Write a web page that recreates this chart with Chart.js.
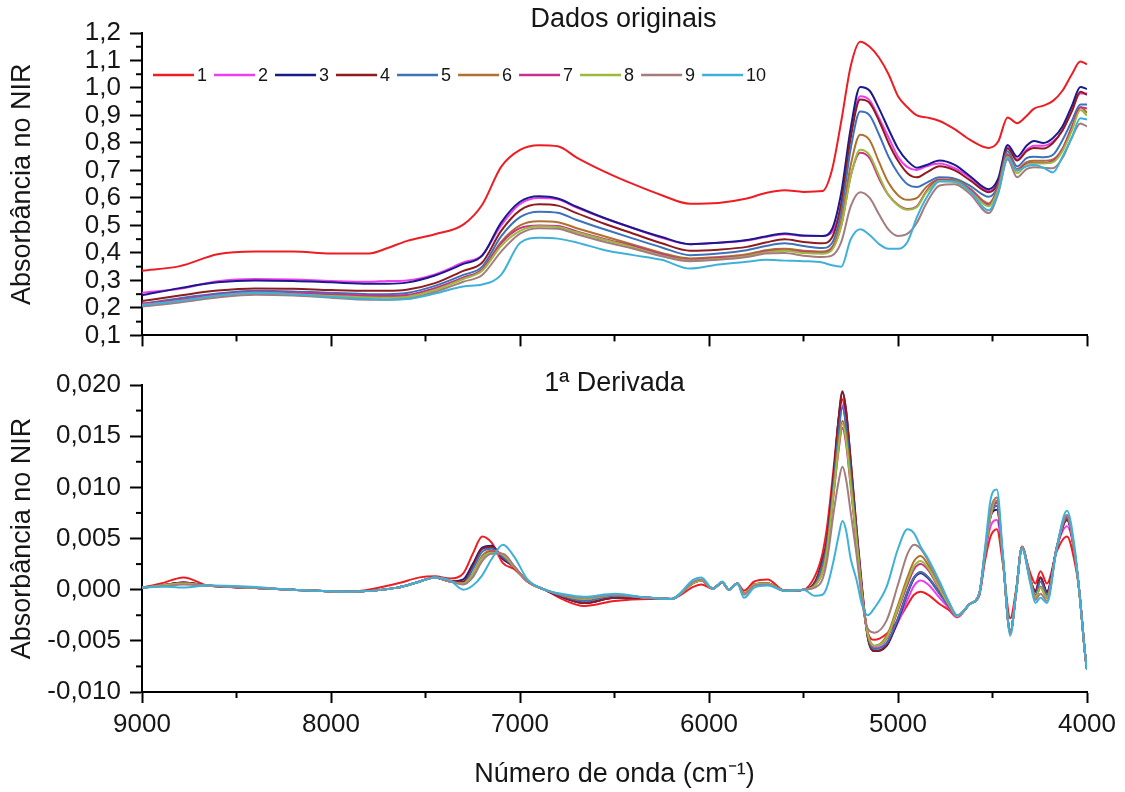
<!DOCTYPE html>
<html lang="pt">
<head>
    <meta charset="UTF-8">
    <title>Dados originais e 1ª Derivada</title>
    <script src="https://cdn.jsdelivr.net/npm/chart.js"></script>
    <style>
        body {
            margin: 0;
            background: #fff;
            width: 1125px;
            height: 792px;
            overflow: hidden;
            position: relative;
        }
        .panel {
            position: absolute;
            left: 0;
            width: 1125px;
        }
        #topPanel { top: 0; height: 360px; }
        #bottomPanel { top: 360px; height: 432px; }
    </style>
</head>
<body>
    <div class="panel" id="topPanel"><canvas id="origChart" width="1125" height="360"></canvas></div>
    <div class="panel" id="bottomPanel"><canvas id="derivChart" width="1125" height="432"></canvas></div>

    <script>
        // amostras
        const sampleLabels = ['1', '2', '3', '4', '5', '6', '7', '8', '9', '10'];
        const lineColors = ['#ee1d23', '#f03cf0', '#1b1a8a', '#8e1b1d', '#3b72b9',
                            '#b0712f', '#c8318e', '#9dbb3a', '#a47c7e', '#3fb1d9'];

        // Dados originais (absorbância)
        const origWavenumbers = [9000, 8800, 8600, 8400, 8200, 8000, 7800, 7700, 7600, 7450,
            7300, 7200, 7100, 7000, 6900, 6800, 6700, 6550, 6400, 6250,
            6100, 5950, 5800, 5700, 5600, 5500, 5400, 5350, 5300, 5250,
            5200, 5150, 5100, 5050, 5000, 4950, 4900, 4850, 4780, 4700,
            4620, 4520, 4470, 4420, 4370, 4320, 4280, 4230, 4180, 4130,
            4080, 4035, 4000];

        const orig1 = [0.335, 0.352, 0.395, 0.405, 0.405, 0.398, 0.398, 0.418, 0.443, 0.468,
            0.503, 0.575, 0.713, 0.775, 0.792, 0.788, 0.747, 0.695, 0.650, 0.610,
            0.579, 0.582, 0.598, 0.618, 0.628, 0.622, 0.625, 0.700, 0.880, 1.080,
            1.168, 1.150, 1.110, 1.050, 0.970, 0.930, 0.900, 0.893, 0.880, 0.850,
            0.812, 0.782, 0.805, 0.893, 0.872, 0.898, 0.925, 0.936, 0.953, 0.990,
            1.050, 1.096, 1.086];
        const orig2 = [0.255, 0.270, 0.297, 0.305, 0.303, 0.298, 0.295, 0.298, 0.300, 0.322,
            0.365, 0.392, 0.500, 0.578, 0.600, 0.595, 0.565, 0.525, 0.490, 0.455,
            0.432, 0.437, 0.445, 0.458, 0.468, 0.462, 0.462, 0.475, 0.580, 0.830,
            0.970, 0.955, 0.890, 0.820, 0.750, 0.712, 0.702, 0.715, 0.725, 0.708,
            0.675, 0.625, 0.660, 0.785, 0.740, 0.775, 0.790, 0.790, 0.805, 0.845,
            0.920, 0.980, 0.980];
        const orig3 = [0.246, 0.272, 0.293, 0.300, 0.298, 0.293, 0.288, 0.288, 0.292, 0.318,
            0.360, 0.390, 0.510, 0.586, 0.606, 0.598, 0.568, 0.526, 0.490, 0.458,
            0.432, 0.437, 0.447, 0.460, 0.471, 0.463, 0.462, 0.485, 0.620, 0.855,
            1.004, 0.990, 0.925, 0.850, 0.780, 0.735, 0.710, 0.720, 0.736, 0.720,
            0.680, 0.632, 0.670, 0.793, 0.750, 0.790, 0.807, 0.800, 0.818, 0.860,
            0.935, 1.004, 0.996];
        const orig4 = [0.225, 0.245, 0.263, 0.271, 0.270, 0.265, 0.262, 0.262, 0.266, 0.290,
            0.335, 0.365, 0.480, 0.555, 0.577, 0.572, 0.545, 0.505, 0.470, 0.435,
            0.408, 0.412, 0.422, 0.438, 0.450, 0.440, 0.435, 0.455, 0.580, 0.820,
            0.958, 0.945, 0.880, 0.800, 0.735, 0.690, 0.675, 0.692, 0.715, 0.700,
            0.665, 0.621, 0.655, 0.780, 0.736, 0.770, 0.782, 0.780, 0.800, 0.845,
            0.915, 0.986, 0.975];
        const orig5 = [0.215, 0.235, 0.252, 0.262, 0.260, 0.255, 0.250, 0.250, 0.254, 0.280,
            0.320, 0.350, 0.460, 0.530, 0.550, 0.546, 0.520, 0.485, 0.452, 0.420,
            0.392, 0.398, 0.410, 0.425, 0.435, 0.425, 0.418, 0.435, 0.550, 0.780,
            0.914, 0.900, 0.830, 0.750, 0.690, 0.650, 0.640, 0.655, 0.675, 0.670,
            0.645, 0.604, 0.645, 0.770, 0.715, 0.745, 0.750, 0.748, 0.757, 0.810,
            0.880, 0.940, 0.940];
        const orig6 = [0.210, 0.228, 0.245, 0.255, 0.252, 0.245, 0.240, 0.240, 0.244, 0.270,
            0.310, 0.340, 0.440, 0.500, 0.515, 0.512, 0.490, 0.460, 0.430, 0.400,
            0.380, 0.385, 0.395, 0.410, 0.415, 0.408, 0.405, 0.420, 0.520, 0.720,
            0.830, 0.810, 0.730, 0.655, 0.610, 0.593, 0.600, 0.640, 0.668, 0.665,
            0.635, 0.580, 0.640, 0.760, 0.705, 0.730, 0.735, 0.735, 0.740, 0.780,
            0.860, 0.930, 0.910];
        const orig7 = [0.215, 0.230, 0.248, 0.258, 0.255, 0.250, 0.245, 0.244, 0.247, 0.272,
            0.310, 0.340, 0.435, 0.490, 0.500, 0.498, 0.478, 0.450, 0.425, 0.395,
            0.375, 0.382, 0.390, 0.405, 0.410, 0.403, 0.400, 0.415, 0.500, 0.680,
            0.764, 0.745, 0.670, 0.610, 0.575, 0.560, 0.570, 0.625, 0.665, 0.660,
            0.630, 0.575, 0.635, 0.755, 0.700, 0.725, 0.728, 0.728, 0.735, 0.775,
            0.855, 0.930, 0.925];
        const orig8 = [0.210, 0.225, 0.243, 0.253, 0.250, 0.243, 0.238, 0.237, 0.240, 0.265,
            0.305, 0.335, 0.425, 0.480, 0.497, 0.494, 0.475, 0.447, 0.420, 0.390,
            0.372, 0.378, 0.388, 0.402, 0.408, 0.400, 0.397, 0.410, 0.500, 0.680,
            0.775, 0.755, 0.680, 0.610, 0.573, 0.557, 0.567, 0.620, 0.662, 0.658,
            0.625, 0.570, 0.630, 0.750, 0.690, 0.720, 0.725, 0.725, 0.730, 0.770,
            0.845, 0.920, 0.900];
        const orig9 = [0.205, 0.220, 0.238, 0.248, 0.245, 0.237, 0.230, 0.230, 0.233, 0.258,
            0.295, 0.320, 0.405, 0.470, 0.490, 0.488, 0.468, 0.440, 0.415, 0.388,
            0.370, 0.375, 0.385, 0.398, 0.400, 0.390, 0.385, 0.390, 0.440, 0.570,
            0.621, 0.600, 0.540, 0.485, 0.462, 0.470, 0.510, 0.580, 0.645, 0.650,
            0.615, 0.545, 0.615, 0.740, 0.675, 0.705, 0.712, 0.710, 0.708, 0.745,
            0.820, 0.871, 0.860];
        const orig10 = [0.210, 0.225, 0.245, 0.255, 0.250, 0.240, 0.232, 0.230, 0.232, 0.252,
            0.278, 0.285, 0.320, 0.436, 0.455, 0.452, 0.438, 0.410, 0.392, 0.375,
            0.343, 0.358, 0.368, 0.375, 0.372, 0.370, 0.365, 0.355, 0.350, 0.450,
            0.486, 0.465, 0.432, 0.415, 0.415, 0.440, 0.530, 0.600, 0.660, 0.660,
            0.625, 0.555, 0.620, 0.745, 0.700, 0.715, 0.720, 0.710, 0.693, 0.750,
            0.820, 0.890, 0.885];

        // 1a derivada
        const derivWavenumbers = [9000, 8900, 8780, 8650, 8450, 8200, 7900, 7650, 7530, 7450,
            7370, 7300, 7250, 7200, 7150, 7090, 7030, 6960, 6870, 6780,
            6660, 6500, 6320, 6200, 6080, 6040, 5980, 5930, 5895, 5850,
            5815, 5760, 5690, 5600, 5500, 5440, 5400, 5375, 5340, 5315,
            5294, 5275, 5250, 5220, 5190, 5160, 5125, 5060, 5000, 4950,
            4915, 4880, 4840, 4780, 4730, 4687, 4620, 4570, 4540, 4510,
            4477, 4445, 4406, 4375, 4344, 4300, 4273, 4246, 4212, 4159,
            4106, 4063, 4040, 4009, 4000];

        const deriv1 = [0.0002, 0.0006, 0.0012, 0.0004, 0.0002, 0.0000, -0.0002, 0.0006, 0.0012, 0.0013,
            0.0011, 0.0016, 0.0035, 0.0052, 0.0046, 0.0026, 0.0020, 0.0008, 0.0000, -0.0009,
            -0.0016, -0.0011, -0.0009, -0.0009, 0.0003, 0.0005, 0.0001, 0.0007, 0.0000, 0.0006,
            -0.0001, 0.0008, 0.0010, -0.0001, 0.0000, 0.0013, 0.0035, 0.0062, 0.0120, 0.0165,
            0.0186, 0.0160, 0.0110, 0.0045, -0.0008, -0.0042, -0.0049, -0.0043, -0.0030, -0.0015,
            -0.0005, -0.0002, -0.0005, -0.0014, -0.0020, -0.0027, -0.0014, -0.0006, 0.0028, 0.0052,
            0.0059, 0.0025, -0.0028, 0.0000, 0.0040, 0.0016, 0.0006, 0.0018, 0.0006, 0.0038,
            0.0052, 0.0025, -0.0003, -0.0065, -0.0078];
        const deriv2 = [0.0002, 0.0004, 0.0007, 0.0004, 0.0002, 0.0000, -0.0002, 0.0002, 0.0008, 0.0012,
            0.0008, 0.0007, 0.0022, 0.0040, 0.0041, 0.0030, 0.0022, 0.0008, 0.0000, -0.0007,
            -0.0013, -0.0008, -0.0008, -0.0009, 0.0007, 0.0009, 0.0001, 0.0007, 0.0000, 0.0006,
            -0.0004, 0.0005, 0.0006, -0.0001, 0.0000, 0.0007, 0.0025, 0.0047, 0.0108, 0.0155,
            0.0180, 0.0162, 0.0115, 0.0055, -0.0003, -0.0045, -0.0057, -0.0052, -0.0032, -0.0010,
            0.0004, 0.0009, 0.0005, -0.0008, -0.0018, -0.0027, -0.0014, -0.0004, 0.0033, 0.0062,
            0.0068, 0.0030, -0.0042, -0.0003, 0.0042, 0.0010, -0.0002, 0.0012, -0.0002, 0.0042,
            0.0062, 0.0033, -0.0003, -0.0065, -0.0078];
        const deriv3 = [0.0002, 0.0004, 0.0007, 0.0004, 0.0002, 0.0000, -0.0002, 0.0002, 0.0008, 0.0012,
            0.0008, 0.0010, 0.0025, 0.0041, 0.0043, 0.0030, 0.0022, 0.0008, 0.0000, -0.0007,
            -0.0013, -0.0008, -0.0008, -0.0009, 0.0007, 0.0009, 0.0001, 0.0007, 0.0000, 0.0006,
            -0.0004, 0.0005, 0.0006, -0.0001, 0.0000, 0.0007, 0.0028, 0.0049, 0.0112, 0.0165,
            0.0193, 0.0175, 0.0125, 0.0060, 0.0000, -0.0046, -0.0060, -0.0055, -0.0030, -0.0004,
            0.0011, 0.0016, 0.0011, -0.0004, -0.0016, -0.0026, -0.0014, -0.0004, 0.0035, 0.0072,
            0.0078, 0.0030, -0.0042, -0.0002, 0.0042, 0.0010, -0.0001, 0.0012, -0.0002, 0.0042,
            0.0068, 0.0033, -0.0003, -0.0065, -0.0078];
        const deriv4 = [0.0002, 0.0004, 0.0007, 0.0004, 0.0002, 0.0000, -0.0002, 0.0002, 0.0008, 0.0012,
            0.0008, 0.0008, 0.0023, 0.0040, 0.0042, 0.0031, 0.0022, 0.0008, 0.0000, -0.0007,
            -0.0013, -0.0008, -0.0008, -0.0009, 0.0007, 0.0009, 0.0001, 0.0007, 0.0000, 0.0006,
            -0.0004, 0.0005, 0.0006, -0.0001, 0.0000, 0.0007, 0.0028, 0.0049, 0.0112, 0.0166,
            0.0194, 0.0176, 0.0126, 0.0062, 0.0002, -0.0047, -0.0060, -0.0054, -0.0028, -0.0002,
            0.0012, 0.0017, 0.0012, -0.0003, -0.0016, -0.0026, -0.0014, -0.0004, 0.0035, 0.0072,
            0.0082, 0.0030, -0.0042, -0.0002, 0.0042, 0.0010, -0.0002, 0.0012, -0.0003, 0.0042,
            0.0068, 0.0033, -0.0003, -0.0065, -0.0078];
        const deriv5 = [0.0002, 0.0004, 0.0006, 0.0004, 0.0002, 0.0000, -0.0002, 0.0002, 0.0008, 0.0012,
            0.0008, 0.0006, 0.0020, 0.0037, 0.0040, 0.0032, 0.0022, 0.0008, 0.0000, -0.0006,
            -0.0011, -0.0006, -0.0008, -0.0009, 0.0007, 0.0009, 0.0001, 0.0007, 0.0000, 0.0006,
            -0.0004, 0.0005, 0.0006, -0.0001, 0.0000, 0.0005, 0.0024, 0.0045, 0.0105, 0.0152,
            0.0178, 0.0160, 0.0113, 0.0055, -0.0003, -0.0045, -0.0058, -0.0052, -0.0028, -0.0003,
            0.0012, 0.0017, 0.0012, -0.0004, -0.0016, -0.0026, -0.0014, -0.0004, 0.0035, 0.0072,
            0.0082, 0.0030, -0.0042, -0.0003, 0.0042, 0.0010, -0.0005, 0.0008, -0.0005, 0.0042,
            0.0070, 0.0033, -0.0003, -0.0065, -0.0078];
        const deriv6 = [0.0002, 0.0004, 0.0006, 0.0004, 0.0002, 0.0000, -0.0002, 0.0002, 0.0008, 0.0012,
            0.0008, 0.0006, 0.0015, 0.0033, 0.0038, 0.0034, 0.0022, 0.0008, 0.0000, -0.0005,
            -0.0009, -0.0005, -0.0008, -0.0009, 0.0007, 0.0009, 0.0001, 0.0007, 0.0000, 0.0006,
            -0.0004, 0.0005, 0.0006, -0.0001, 0.0000, 0.0004, 0.0018, 0.0040, 0.0098, 0.0142,
            0.0165, 0.0150, 0.0105, 0.0050, -0.0005, -0.0044, -0.0055, -0.0045, -0.0015, 0.0012,
            0.0028, 0.0033, 0.0024, 0.0003, -0.0014, -0.0026, -0.0014, -0.0004, 0.0035, 0.0072,
            0.0087, 0.0030, -0.0042, -0.0003, 0.0042, 0.0010, -0.0008, 0.0003, -0.0008, 0.0042,
            0.0072, 0.0033, -0.0003, -0.0065, -0.0078];
        const deriv7 = [0.0002, 0.0004, 0.0006, 0.0004, 0.0002, 0.0000, -0.0002, 0.0002, 0.0008, 0.0012,
            0.0008, 0.0006, 0.0015, 0.0031, 0.0037, 0.0034, 0.0022, 0.0008, 0.0000, -0.0005,
            -0.0009, -0.0005, -0.0008, -0.0009, 0.0007, 0.0009, 0.0001, 0.0007, 0.0000, 0.0006,
            -0.0004, 0.0005, 0.0006, -0.0001, 0.0000, 0.0004, 0.0017, 0.0038, 0.0094, 0.0135,
            0.0158, 0.0143, 0.0100, 0.0048, -0.0006, -0.0043, -0.0055, -0.0048, -0.0020, 0.0005,
            0.0020, 0.0025, 0.0019, 0.0000, -0.0015, -0.0026, -0.0014, -0.0004, 0.0035, 0.0072,
            0.0085, 0.0030, -0.0042, -0.0003, 0.0042, 0.0010, -0.0008, 0.0002, -0.0008, 0.0042,
            0.0071, 0.0033, -0.0003, -0.0065, -0.0078];
        const deriv8 = [0.0002, 0.0004, 0.0006, 0.0004, 0.0002, 0.0000, -0.0002, 0.0002, 0.0008, 0.0012,
            0.0008, 0.0006, 0.0015, 0.0031, 0.0036, 0.0034, 0.0022, 0.0008, 0.0000, -0.0005,
            -0.0009, -0.0005, -0.0008, -0.0009, 0.0007, 0.0009, 0.0001, 0.0007, 0.0000, 0.0006,
            -0.0004, 0.0005, 0.0006, -0.0001, 0.0000, 0.0004, 0.0017, 0.0039, 0.0096, 0.0138,
            0.0162, 0.0147, 0.0102, 0.0049, -0.0005, -0.0043, -0.0055, -0.0047, -0.0018, 0.0008,
            0.0023, 0.0028, 0.0021, 0.0001, -0.0015, -0.0026, -0.0014, -0.0004, 0.0035, 0.0072,
            0.0090, 0.0030, -0.0042, -0.0003, 0.0042, 0.0010, -0.0008, 0.0002, -0.0008, 0.0042,
            0.0073, 0.0033, -0.0003, -0.0065, -0.0078];
        const deriv9 = [0.0002, 0.0003, 0.0005, 0.0004, 0.0002, 0.0000, -0.0002, 0.0002, 0.0008, 0.0012,
            0.0008, 0.0005, 0.0012, 0.0028, 0.0035, 0.0035, 0.0023, 0.0008, 0.0000, -0.0005,
            -0.0008, -0.0005, -0.0008, -0.0009, 0.0008, 0.0010, 0.0001, 0.0007, 0.0000, 0.0006,
            -0.0005, 0.0004, 0.0005, -0.0001, 0.0000, 0.0002, 0.0010, 0.0029, 0.0076, 0.0105,
            0.0120, 0.0108, 0.0075, 0.0035, -0.0010, -0.0038, -0.0042, -0.0030, 0.0005, 0.0035,
            0.0044, 0.0040, 0.0028, 0.0005, -0.0013, -0.0025, -0.0014, -0.0004, 0.0038, 0.0078,
            0.0090, 0.0032, -0.0042, -0.0003, 0.0042, 0.0008, -0.0010, -0.0004, -0.0011, 0.0042,
            0.0073, 0.0033, -0.0003, -0.0065, -0.0078];
        const deriv10 = [0.0002, 0.0003, 0.0002, 0.0004, 0.0003, 0.0000, -0.0002, 0.0002, 0.0008, 0.0012,
            0.0009, 0.0000, 0.0004, 0.0014, 0.0030, 0.0044, 0.0032, 0.0010, 0.0000, -0.0004,
            -0.0007, -0.0004, -0.0008, -0.0009, 0.0010, 0.0012, 0.0001, 0.0008, 0.0000, 0.0006,
            -0.0008, 0.0002, 0.0004, -0.0001, 0.0000, -0.0006, -0.0005, 0.0003, 0.0029, 0.0052,
            0.0067, 0.0058, 0.0030, 0.0010, -0.0015, -0.0025, -0.0018, 0.0003, 0.0040, 0.0059,
            0.0055, 0.0042, 0.0030, 0.0008, -0.0012, -0.0025, -0.0014, -0.0004, 0.0040, 0.0088,
            0.0098, 0.0035, -0.0045, -0.0003, 0.0040, 0.0006, -0.0013, -0.0008, -0.0013, 0.0042,
            0.0077, 0.0038, -0.0003, -0.0065, -0.0078];

        const origSeries = [orig1, orig2, orig3, orig4, orig5, orig6, orig7, orig8, orig9, orig10];
        const derivSeries = [deriv1, deriv2, deriv3, deriv4, deriv5, deriv6, deriv7, deriv8, deriv9, deriv10];

        const fontFamily = "'Liberation Sans', Arial, Helvetica, sans-serif";
        const textColor = '#161616';

        function buildDatasets(xs, series) {
            return series.map((vals, i) => ({
                label: sampleLabels[i],
                data: vals.map((v, k) => ({ x: xs[k], y: v })),
                borderColor: lineColors[i],
                backgroundColor: lineColors[i],
                borderWidth: 2,
                pointRadius: 0,
                fill: false,
                cubicInterpolationMode: 'monotone',
                order: series.length - i   // 10 fica por cima
            }));
        }

        // ticks menores entre os maiores
        const minorTicks = {
            id: 'minorTicks',
            afterDraw(chart) {
                const ctx = chart.ctx, area = chart.chartArea;
                ctx.save();
                ctx.strokeStyle = '#000';
                ctx.lineWidth = 2;
                ['x', 'y'].forEach(id => {
                    const scale = chart.scales[id];
                    const vals = scale.ticks.map(t => t.value);
                    for (let i = 0; i < vals.length - 1; i++) {
                        const p = scale.getPixelForValue((vals[i] + vals[i + 1]) / 2);
                        ctx.beginPath();
                        if (id === 'x') {
                            ctx.moveTo(p, area.bottom);
                            ctx.lineTo(p, area.bottom + 6);
                        } else {
                            ctx.moveTo(area.left, p);
                            ctx.lineTo(area.left - 6, p);
                        }
                        ctx.stroke();
                    }
                });
                ctx.restore();
            }
        };

        // titulo do painel + legenda dentro do grafico
        const panelText = {
            id: 'panelText',
            afterDraw(chart, args, opts) {
                const ctx = chart.ctx, area = chart.chartArea;
                ctx.save();
                ctx.fillStyle = textColor;
                ctx.font = '27px ' + fontFamily;
                ctx.textAlign = 'center';
                ctx.textBaseline = 'middle';
                ctx.fillText(opts.text, (area.left + area.right) / 2 + opts.dx, opts.y);
                if (opts.legend) {
                    ctx.font = '18px ' + fontFamily;
                    ctx.textAlign = 'left';
                    let x = area.left + 11;
                    const y = area.top + 42;
                    chart.data.datasets.forEach(ds => {
                        ctx.strokeStyle = ds.borderColor;
                        ctx.lineWidth = 2.5;
                        ctx.beginPath();
                        ctx.moveTo(x, y);
                        ctx.lineTo(x + 41, y);
                        ctx.stroke();
                        ctx.fillText(ds.label, x + 44, y + 1);
                        x += 44 + ctx.measureText(ds.label).width + 7;
                    });
                }
                ctx.restore();
            }
        };

        function axisX(showLabels, height) {
            return {
                type: 'linear',
                min: 4000,
                max: 9000,
                reverse: true,
                afterFit: s => { s.height = height; },
                border: { display: true, color: '#000', width: 2 },
                grid: { drawOnChartArea: false, drawTicks: true, tickLength: 11, tickColor: '#000', tickWidth: 2 },
                ticks: {
                    display: showLabels,
                    autoSkip: false,
                    stepSize: 1000,
                    padding: 6,
                    color: textColor,
                    font: { family: fontFamily, size: 26 },
                    maxRotation: 0,
                    callback: v => String(v)
                },
                title: {
                    display: showLabels,
                    text: 'Número de onda (cm⁻¹)',
                    color: textColor,
                    font: { family: fontFamily, size: 27 },
                    padding: { top: 0, bottom: 1 }
                }
            };
        }

        function axisY(min, max, step, decimals) {
            return {
                min: min,
                max: max,
                afterFit: s => { s.width = 142; },
                border: { display: true, color: '#000', width: 2 },
                grid: { drawOnChartArea: false, drawTicks: true, tickLength: 12, tickColor: '#000', tickWidth: 2 },
                ticks: {
                    autoSkip: false,
                    stepSize: step,
                    padding: 9,
                    color: textColor,
                    font: { family: fontFamily, size: 26 },
                    callback: v => (Math.abs(v) < 1e-9 ? 0 : v).toFixed(decimals).replace('.', ',')
                },
                title: {
                    display: true,
                    text: 'Absorbância no NIR',
                    color: textColor,
                    font: { family: fontFamily, size: 27 },
                    padding: { top: 6, bottom: 0 }
                }
            };
        }

        new Chart(document.getElementById('origChart'), {
            type: 'line',
            data: { datasets: buildDatasets(origWavenumbers, origSeries) },
            options: {
                responsive: false,
                animation: false,
                layout: { padding: { top: 33, right: 38, left: 0, bottom: 0 } },
                scales: {
                    x: axisX(false, 19),
                    y: axisY(0.1, 1.2, 0.1, 1)
                },
                plugins: {
                    legend: { display: false },
                    tooltip: { enabled: false },
                    panelText: { text: 'Dados originais', dx: 9, y: 20, legend: true }
                }
            },
            plugins: [minorTicks, panelText]
        });

        new Chart(document.getElementById('derivChart'), {
            type: 'line',
            data: { datasets: buildDatasets(derivWavenumbers, derivSeries) },
            options: {
                responsive: false,
                animation: false,
                layout: { padding: { top: 25, right: 38, left: 0, bottom: 0 } },
                scales: {
                    x: axisX(true, 100),
                    y: axisY(-0.010, 0.020, 0.005, 3)
                },
                plugins: {
                    legend: { display: false },
                    tooltip: { enabled: false },
                    panelText: { text: '1ª Derivada', dx: 0, y: 24, legend: false }
                }
            },
            plugins: [minorTicks, panelText]
        });
    </script>
</body>
</html>
